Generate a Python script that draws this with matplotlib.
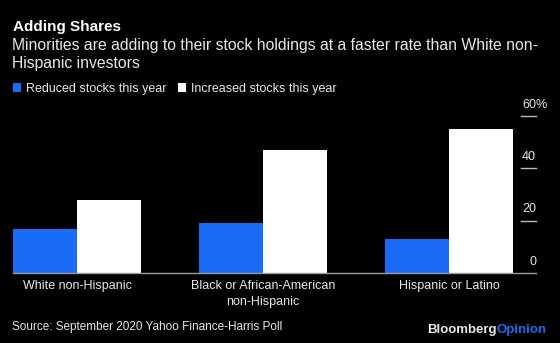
import numpy as np
import matplotlib
matplotlib.use("Agg")
import matplotlib.pyplot as plt
from matplotlib.patches import Patch

# data (percent of investors)
groups = ["White non-Hispanic", "Black or African-American\nnon-Hispanic", "Hispanic or Latino"]
reduced = [17, 19, 13]
increased = [28, 47, 55]
series_names = ["Reduced stocks this year", "Increased stocks this year"]
yticks = [0, 20, 40, 60]

blue = "#1a6cf6"
bg = "black"
W, H = 560, 343

plt.rcParams['font.family'] = ['Liberation Sans', 'DejaVu Sans']

fig = plt.figure(figsize=(W / 100, H / 100), dpi=100, facecolor=bg)
# axes in pixel coords: x 13..536, baseline at y=273, 60 at y=116
ax = fig.add_axes([13 / W, 1 - 273 / H, 523 / W, 157 / H], facecolor=bg)

x = np.arange(len(groups))
bw = 0.344
ax.bar(x - bw / 2, reduced, bw, color=blue, linewidth=0)
ax.bar(x + bw / 2, increased, bw, color="white", linewidth=0)

ax.set_xlim(-bw, -bw + 523 / 186)
ax.set_ylim(0, 60)

for s in ["top", "left", "right"]:
    ax.spines[s].set_visible(False)
ax.spines["bottom"].set_color("#9a9a9a")
ax.spines["bottom"].set_linewidth(1)

ax.set_yticks([])
ax.set_xticks(x)
ax.set_xticklabels(groups, fontsize=9, color="#e8e8e8", linespacing=1.4)
ax.tick_params(axis="x", length=0, pad=5)

# right-side tick marks with labels sitting above them
ytr = ax.get_yaxis_transform()
for v in yticks[1:]:
    ax.plot([0.971, 1.0], [v, v], transform=ytr, color="#bbbbbb", lw=1, clip_on=False)
for v in yticks:
    ax.text(1.0, v + 4.3, str(v), transform=ytr, ha="right", va="center",
            fontsize=9, color="#e8e8e8")
ax.text(1.0, yticks[-1] + 4.3, "%", transform=ytr, ha="left", va="center",
        fontsize=9, color="#e8e8e8")

# header
fig.text(13 / W, 1 - 27 / H, "Adding Shares", fontsize=11, fontweight="bold",
         color="white", va="center")
fig.text(12 / W, 1 - 54.5 / H,
         "Minorities are adding to their stock holdings at a faster rate than White non-\nHispanic investors",
         fontsize=11.3, color="#e8e8e8", va="center", linespacing=1.25)

handles = [Patch(facecolor=blue, edgecolor="none"), Patch(facecolor="white", edgecolor="none")]
fig.legend(handles, series_names, loc="center left", bbox_to_anchor=(13 / W, 1 - 89 / H),
           ncol=2, frameon=False, fontsize=9, labelcolor="#e8e8e8",
           handlelength=0.65, handleheight=0.65, handletextpad=0.4,
           columnspacing=0.9, borderpad=0, borderaxespad=0)

# footer
fig.text(12 / W, 1 - 327 / H, "Source: September 2020 Yahoo Finance-Harris Poll",
         fontsize=8.5, color="#e8e8e8", va="center")
t1 = fig.text(427 / W, 1 - 330 / H, "Bloomberg", fontsize=9.5, fontweight="bold",
              color="#e8e8e8", va="center")
fig.canvas.draw()
bb = t1.get_window_extent()
fig.text(bb.x1 / W, 1 - 330 / H, "Opinion", fontsize=9.5, fontweight="bold",
         color=blue, va="center")

fig.savefig("out.png", dpi=100, facecolor=bg)
